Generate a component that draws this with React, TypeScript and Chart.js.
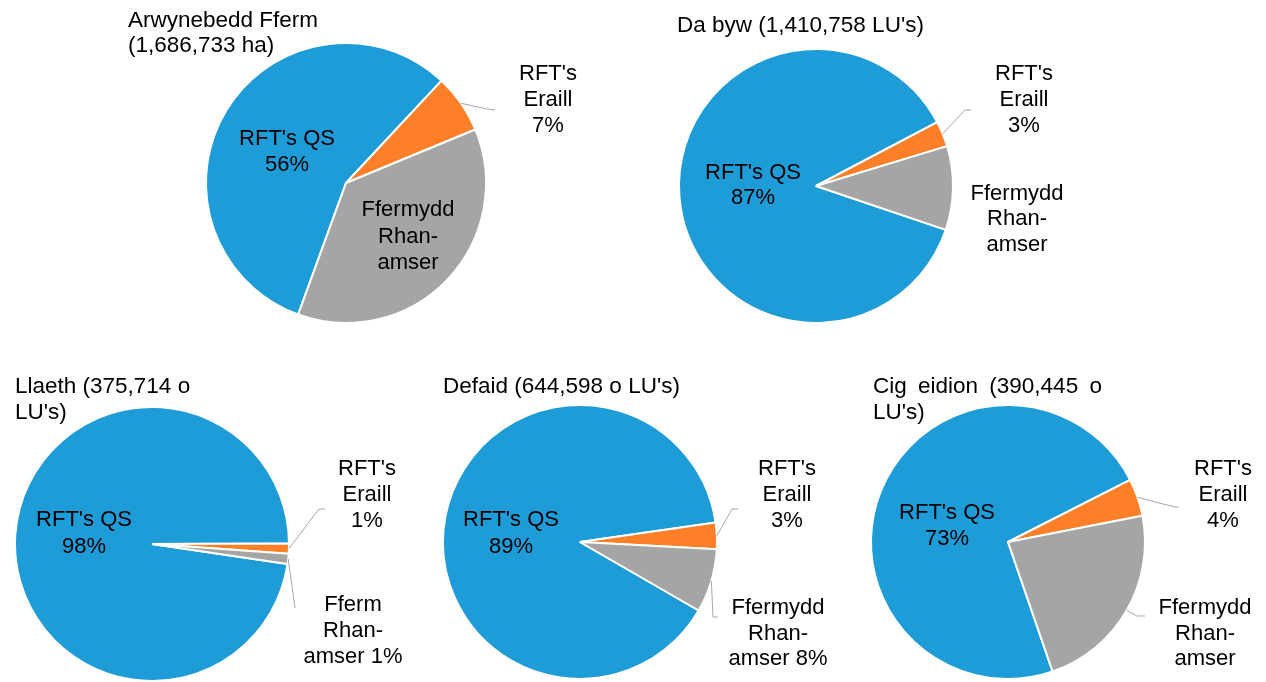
import React, { useEffect, useRef } from "react";
import { Chart, registerables } from "chart.js";

Chart.register(...registerables);

// ---------- data ----------
const categories = ["RFT's QS", "RFT's Eraill", "Ffermydd Rhan-amser"];
const arwynebeddValues = [56.4, 6.8, 36.8];
const dabywValues = [87.1, 3.0, 9.9];
const llaethValues = [97.6, 1.2, 1.2];
const defaidValues = [89.4, 3.1, 7.5];
const cigEidionValues = [72.8, 4.4, 22.8];

const titleArwynebedd = ["Arwynebedd Fferm", "(1,686,733 ha)"];
const titleDabyw = ["Da byw (1,410,758 LU's)"];
const titleLlaeth = ["Llaeth (375,714 o", "LU's)"];
const titleDefaid = ["Defaid (644,598 o LU's)"];
const titleCigEidion = ["Cig eidion (390,445 o", "LU's)"];

// ---------- styles ----------
const sliceColors = ["#1E9CD8", "#FD7F28", "#A5A5A5"];
const W = 1266;
const H = 682;
const FONT = '22px "Liberation Sans", Arial, sans-serif';
const TITLE_FONT = '22.5px "Liberation Sans", Arial, sans-serif';
const TEXT = "#000000";
const LEADER = "#A6A6A6";

type Label = { slice: number; lines: string[]; x: number; baselines: number[] };
type Leader = { slice: number; points: [number, number][] };
type Panel = {
  values: number[];
  title: string[];
  titleX: number;
  titleBaselines: number[];
  titleWordGap?: number;
  cx: number;
  cy: number;
  r: number;
  rotation: number;
  labels: Label[];
  leaders: Leader[];
};

const P = "{p}";

const panels: Panel[] = [
  {
    values: arwynebeddValues,
    title: titleArwynebedd,
    titleX: 128,
    titleBaselines: [27, 52],
    cx: 346, cy: 183, r: 140, rotation: 200,
    labels: [
      { slice: 0, lines: ["RFT's QS", P], x: 287, baselines: [145, 171] },
      { slice: 1, lines: ["RFT's", "Eraill", P], x: 548, baselines: [80, 106, 132] },
      { slice: 2, lines: ["Ffermydd", "Rhan-", "amser"], x: 408, baselines: [216, 242.5, 268.5] },
    ],
    leaders: [{ slice: 1, points: [[487, 109], [495, 110]] }],
  },
  {
    values: dabywValues,
    title: titleDabyw,
    titleX: 677,
    titleBaselines: [32],
    cx: 816, cy: 186, r: 137, rotation: 108.7,
    labels: [
      { slice: 0, lines: ["RFT's QS", P], x: 753, baselines: [178.5, 204] },
      { slice: 1, lines: ["RFT's", "Eraill", P], x: 1024, baselines: [80, 106, 132] },
      { slice: 2, lines: ["Ffermydd", "Rhan-", "amser"], x: 1017, baselines: [199.5, 225, 250.5] },
    ],
    leaders: [{ slice: 1, points: [[965, 110], [971, 110]] }],
  },
  {
    values: llaethValues,
    title: titleLlaeth,
    titleX: 15,
    titleBaselines: [392.7, 419.3],
    cx: 152, cy: 544, r: 137, rotation: 98.4,
    labels: [
      { slice: 0, lines: ["RFT's QS", P], x: 84, baselines: [526, 553] },
      { slice: 1, lines: ["RFT's", "Eraill", P], x: 367, baselines: [475, 501, 527] },
      { slice: 2, lines: ["Fferm", "Rhan-", "amser " + P], x: 353, baselines: [611, 637, 663] },
    ],
    leaders: [
      { slice: 1, points: [[319, 509], [325, 509]] },
      { slice: 2, points: [[295, 608]] },
    ],
  },
  {
    values: defaidValues,
    title: titleDefaid,
    titleX: 443,
    titleBaselines: [392.7],
    cx: 580, cy: 542, r: 137, rotation: 120,
    labels: [
      { slice: 0, lines: ["RFT's QS", P], x: 511, baselines: [526, 553] },
      { slice: 1, lines: ["RFT's", "Eraill", P], x: 787, baselines: [475, 501, 527] },
      { slice: 2, lines: ["Ffermydd", "Rhan-", "amser " + P], x: 778, baselines: [614, 640, 665] },
    ],
    leaders: [
      { slice: 1, points: [[732, 509], [738, 509]] },
      { slice: 2, points: [[713, 617], [718, 617]] },
    ],
  },
  {
    values: cigEidionValues,
    title: titleCigEidion,
    titleX: 873,
    titleBaselines: [392.7, 419.3],
    titleWordGap: 5,
    cx: 1008, cy: 542, r: 137, rotation: 161,
    labels: [
      { slice: 0, lines: ["RFT's QS", P], x: 947, baselines: [518.5, 544.5] },
      { slice: 1, lines: ["RFT's", "Eraill", P], x: 1223, baselines: [475, 501, 527] },
      { slice: 2, lines: ["Ffermydd", "Rhan-", "amser"], x: 1205, baselines: [614, 640, 665] },
    ],
    leaders: [
      { slice: 1, points: [[1175, 507], [1179, 507]] },
      { slice: 2, points: [[1137, 616], [1145, 616]] },
    ],
  },
];

function annotate(panel: Panel) {
  return {
    id: "annotate",
    afterDatasetsDraw(chart: any) {
      const ctx: CanvasRenderingContext2D = chart.ctx;
      const meta = chart.getDatasetMeta(0);
      ctx.save();
      // leader lines, starting on the slice edge at its middle angle
      ctx.strokeStyle = LEADER;
      ctx.lineWidth = 1;
      panel.leaders.forEach((ld) => {
        const arc = meta.data[ld.slice];
        const p = arc.getProps(["x", "y", "startAngle", "endAngle", "outerRadius"], true);
        const mid = (p.startAngle + p.endAngle) / 2;
        ctx.beginPath();
        ctx.moveTo(p.x + Math.cos(mid) * p.outerRadius, p.y + Math.sin(mid) * p.outerRadius);
        ld.points.forEach(([x, y]) => ctx.lineTo(x, y));
        ctx.stroke();
      });
      ctx.fillStyle = TEXT;
      ctx.font = FONT;
      ctx.textBaseline = "alphabetic";
      // slice labels
      ctx.textAlign = "center";
      panel.labels.forEach((lb) => {
        const pct = Math.round(panel.values[lb.slice]) + "%";
        lb.lines.forEach((line, i) => {
          ctx.fillText(line.replace(P, pct), lb.x, lb.baselines[i]);
        });
      });
      // title
      ctx.font = TITLE_FONT;
      ctx.textAlign = "left";
      const space = ctx.measureText(" ").width;
      panel.title.forEach((line, i) => {
        const y = panel.titleBaselines[i];
        if (!panel.titleWordGap) {
          ctx.fillText(line, panel.titleX, y);
        } else {
          let x = panel.titleX;
          line.split(" ").forEach((word) => {
            ctx.fillText(word, x, y);
            x += ctx.measureText(word).width + space + panel.titleWordGap!;
          });
        }
      });
      ctx.restore();
    },
  };
}

function PieCanvas({ panel }: { panel: Panel }) {
  const ref = useRef<HTMLCanvasElement>(null);
  useEffect(() => {
    if (!ref.current) return;
    const pad = {
      left: panel.cx - panel.r - 1,
      right: W - panel.cx - panel.r - 1,
      top: panel.cy - panel.r - 1,
      bottom: Math.max(0, H - panel.cy - panel.r - 1),
    };
    const chart = new Chart(ref.current, {
      type: "pie",
      data: {
        labels: categories,
        datasets: [
          {
            data: panel.values,
            backgroundColor: sliceColors,
            borderColor: "#FFFFFF",
            borderWidth: 2,
            hoverOffset: 0,
            offset: 0,
          } as any,
        ],
      },
      options: {
        responsive: false,
        animation: false,
        events: [],
        rotation: panel.rotation,
        layout: { padding: pad },
        plugins: {
          legend: { display: false },
          tooltip: { enabled: false },
          title: { display: false },
        },
      } as any,
      plugins: [annotate(panel) as any],
    });
    return () => chart.destroy();
  }, [panel]);
  return (
    <canvas
      ref={ref}
      width={W}
      height={H}
      style={{ position: "absolute", left: 0, top: 0, width: W, height: H }}
    />
  );
}

export default function App() {
  return (
    <div
      style={{
        position: "absolute",
        left: 0,
        top: 0,
        width: W,
        height: H,
        background: "#FFFFFF",
        overflow: "hidden",
      }}
    >
      {panels.map((p, i) => (
        <PieCanvas key={i} panel={p} />
      ))}
    </div>
  );
}
